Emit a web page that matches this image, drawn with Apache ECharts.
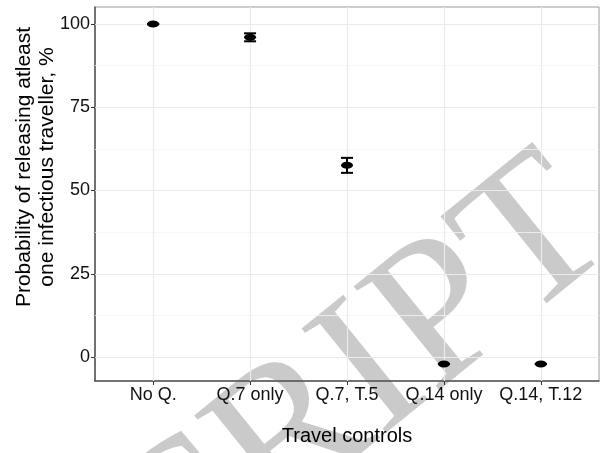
<!DOCTYPE html>
<html>
<head>
<meta charset="utf-8">
<script src="https://cdn.jsdelivr.net/npm/echarts@6/dist/echarts.min.js"></script>
<style>
  html, body { margin: 0; padding: 0; background: #fff; }
  #chart { width: 602px; height: 453px; }
</style>
</head>
<body>
<div id="chart"></div>
<script>
// 數據
const categories = ['No Q.', 'Q.7 only', 'Q.7, T.5', 'Q.14 only', 'Q.14, T.12'];
const probability = [100, 96, 57.6, -2.1, -2.1];
const lowerCI = [99.9, 94.8, 55.3, -2.1, -2.1];
const upperCI = [100, 97.2, 59.8, -2.1, -2.1];
const yTicks = [0, 25, 50, 75, 100];
const yMinorGrid = [12.5, 37.5, 62.5, 87.5];
const xTicks = [0, 1, 2, 3, 4];

const chart = echarts.init(document.getElementById('chart'));

const fontFamily = '"Liberation Sans", Arial, sans-serif';

const gridLines = [
  ...yTicks.map((v) => ({ yAxis: v, lineStyle: { color: '#ebebeb', width: 1.2, type: 'solid' } })),
  ...yMinorGrid.map((v) => ({ yAxis: v, lineStyle: { color: '#f5f5f5', width: 0.8, type: 'solid' } })),
  ...xTicks.map((v) => ({ xAxis: v, lineStyle: { color: '#ebebeb', width: 1.2, type: 'solid' } })),
];

const option = {
  animation: false,
  backgroundColor: '#fff',
  grid: {
    left: 95,
    right: 3,
    top: 7,
    bottom: 72,
    show: true,
    borderColor: '#999',
    borderWidth: 1,
  },
  xAxis: {
    type: 'value',
    min: -0.6,
    max: 4.6,
    name: 'Travel controls',
    nameLocation: 'middle',
    nameGap: 45,
    nameTextStyle: { fontSize: 20, color: '#000', fontFamily },
    splitLine: { show: false },
    axisLine: { show: true, onZero: false, lineStyle: { color: '#555', width: 1.5 } },
    axisTick: { show: true, customValues: xTicks, length: 4, lineStyle: { color: '#333' } },
    axisLabel: {
      customValues: xTicks,
      formatter: (v) => categories[Math.round(v)],
      fontSize: 18,
      color: '#111',
      margin: 5,
      fontFamily,
    },
  },
  yAxis: {
    type: 'value',
    min: -7.2,
    max: 105.1,
    splitLine: { show: false },
    axisLine: { show: true, onZero: false, lineStyle: { color: '#555', width: 1.5 } },
    axisTick: { show: true, customValues: yTicks, length: 4, lineStyle: { color: '#333' } },
    axisLabel: {
      customValues: yTicks,
      fontSize: 18,
      color: '#111',
      margin: 5,
      fontFamily,
    },
  },
  graphic: [
    {
      // 浮水印
      type: 'text',
      z: 0,
      x: 650,
      y: 282,
      rotation: 0.68,
      silent: true,
      style: {
        text: 'MANUSCRIPT',
        font: '205px "Liberation Serif", "Times New Roman", serif',
        fill: 'rgba(150,150,150,0.5)',
        align: 'right',
        verticalAlign: 'bottom',
      },
    },
    {
      type: 'text',
      x: 36,
      y: 167,
      rotation: Math.PI / 2,
      style: {
        text: 'Probability of releasing atleast\none infectious traveller, %',
        font: '21px ' + fontFamily,
        fill: '#000',
        align: 'center',
        verticalAlign: 'middle',
        lineHeight: 23,
      },
    },
  ],
  series: [
    {
      // 格線
      type: 'scatter',
      data: [],
      z: 1,
      silent: true,
      markLine: {
        silent: true,
        z: 1,
        symbol: 'none',
        label: { show: false },
        animation: false,
        data: gridLines,
      },
    },
    {
      // 誤差線
      type: 'custom',
      z: 3,
      data: categories.map((c, i) => [i, lowerCI[i], upperCI[i]]),
      renderItem: (params, api) => {
        const x = api.value(0);
        const lo = api.coord([x, api.value(1)]);
        const hi = api.coord([x, api.value(2)]);
        const half = 6;
        const style = { stroke: '#000', lineWidth: 2 };
        return {
          type: 'group',
          children: [
            { type: 'line', shape: { x1: lo[0], y1: lo[1], x2: hi[0], y2: hi[1] }, style },
            { type: 'line', shape: { x1: lo[0] - half, y1: lo[1], x2: lo[0] + half, y2: lo[1] }, style },
            { type: 'line', shape: { x1: hi[0] - half, y1: hi[1], x2: hi[0] + half, y2: hi[1] }, style },
          ],
        };
      },
    },
    {
      type: 'scatter',
      z: 4,
      symbol: 'circle',
      symbolSize: [12, 7],
      itemStyle: { color: '#000', opacity: 1, borderWidth: 0 },
      data: categories.map((c, i) => [i, probability[i]]),
    },
  ],
};

chart.setOption(option);
window.addEventListener('resize', () => chart.resize());
</script>
</body>
</html>
